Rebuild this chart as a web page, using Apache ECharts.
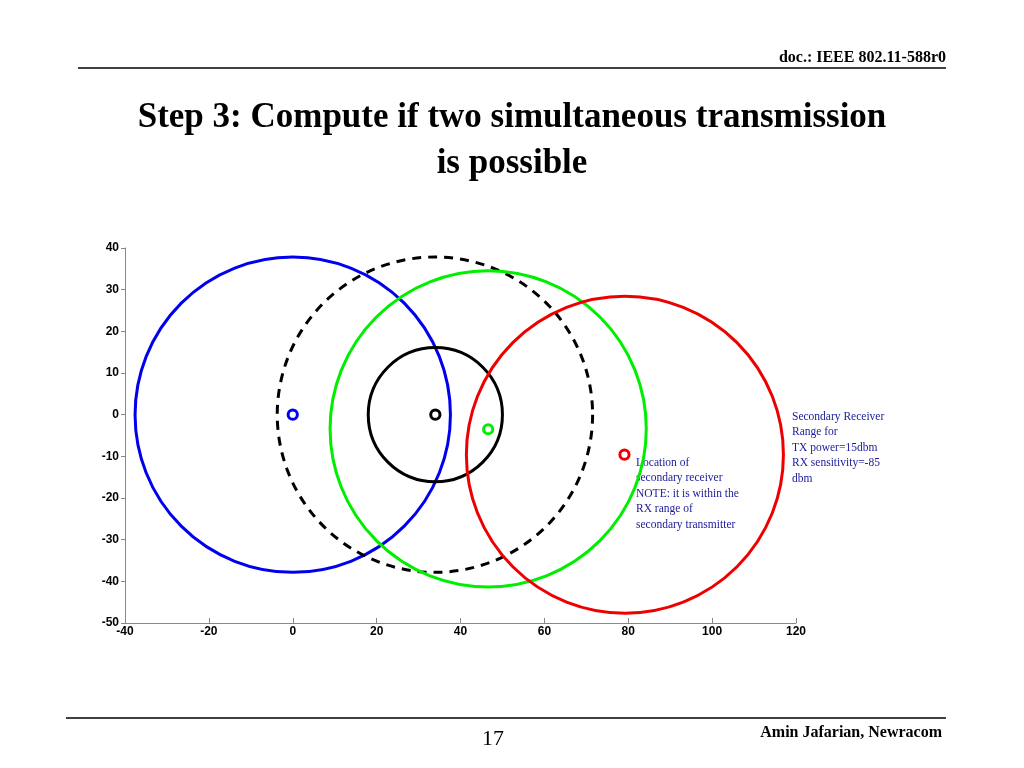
<!DOCTYPE html><html><head><meta charset="utf-8">
<script src="https://cdn.jsdelivr.net/npm/echarts@6/dist/echarts.min.js"></script>
<style>body{margin:0;background:#fff}#c{width:1024px;height:768px}</style></head><body><div id="c"></div>
<script>
const ranges = [
  {name:'blue', cx:0, cy:0, r:37.6, color:'#0000ee', dash:false},
  {name:'dashed', cx:33.9, cy:0, r:37.6, color:'#000000', dash:true},
  {name:'black', cx:34, cy:0, r:16, color:'#000000', dash:false},
  {name:'green', cx:46.6, cy:-3.4, r:37.7, color:'#00ee00', dash:false},
  {name:'red', cx:79.2, cy:-9.6, r:37.8, color:'#ee0000', dash:false}
];
const markers = [
  {cx:0, cy:0, r:1.1, color:'#0000ee'},
  {cx:34, cy:0, r:1.1, color:'#000000'},
  {cx:46.6, cy:-3.5, r:1.1, color:'#00ee00'},
  {cx:79.1, cy:-9.6, r:1.1, color:'#ee0000'}
];
const xTicks=[-40,120,20], yTicks=[-50,40,10];
const chart=echarts.init(document.getElementById('c'));
function circ(list,lw){
  return {type:'custom',coordinateSystem:'cartesian2d',clip:false,
    data:list.map(d=>[d.cx,d.cy,d.r]),
    renderItem:(p,api)=>{const d=list[p.dataIndex];const c=api.coord([api.value(0),api.value(1)]);
      const s=api.size([api.value(2),api.value(2)]);
      return {type:'circle',shape:{cx:c[0],cy:c[1],r:s[0]},style:{fill:null,stroke:d.color,lineWidth:lw,lineDash:d.dash?[9,7]:null}};}};
}
const lab={color:'#000',fontFamily:'Liberation Sans',fontSize:12,fontWeight:'bold'};
chart.setOption({
  animation:false,
  grid:{left:125,top:248,width:671,height:375},
  xAxis:{type:'value',min:xTicks[0],max:xTicks[1],interval:xTicks[2],splitLine:{show:false},
    axisLine:{onZero:false,lineStyle:{color:'#888'}},axisTick:{inside:true,lineStyle:{color:'#888'}},
    axisLabel:Object.assign({margin:3},lab)},
  yAxis:{type:'value',min:yTicks[0],max:yTicks[1],interval:yTicks[2],splitLine:{show:false},
    axisLine:{onZero:false,lineStyle:{color:'#888'}},axisTick:{lineStyle:{color:'#888'},length:4},
    axisLabel:Object.assign({margin:6},lab)},
  series:[circ(ranges,3),circ(markers,3)],
  graphic:[
    {type:'text',right:78,top:50,style:{text:'doc.: IEEE 802.11-588r0',font:'bold 16px "Liberation Serif"',fill:'#000'}},
    {type:'line',shape:{x1:78,y1:68,x2:946,y2:68},style:{stroke:'#000',lineWidth:1.5}},
    {type:'text',x:512,y:95,style:{text:'Step 3: Compute if two simultaneous transmission\nis possible',font:'bold 35px "Liberation Serif"',fill:'#000',align:'center',lineHeight:46}},
    {type:'text',left:792,top:409,style:{text:'Secondary Receiver\nRange for\nTX power=15dbm\nRX sensitivity=-85\ndbm',font:'11.5px "Liberation Serif"',fill:'#1a1a99',lineHeight:15.5}},
    {type:'text',left:636,top:455,style:{text:'Location of\nsecondary receiver\nNOTE: it is within the\nRX range of\nsecondary transmitter',font:'11.5px "Liberation Serif"',fill:'#1a1a99',lineHeight:15.5}},
    {type:'line',shape:{x1:66,y1:718,x2:946,y2:718},style:{stroke:'#000',lineWidth:1.5}},
    {type:'text',left:482,top:728,style:{text:'17',font:'22px "Liberation Serif"',fill:'#000'}},
    {type:'text',right:82,top:725,style:{text:'Amin Jafarian, Newracom',font:'bold 16px "Liberation Serif"',fill:'#000'}}
  ]
});
</script></body></html>
